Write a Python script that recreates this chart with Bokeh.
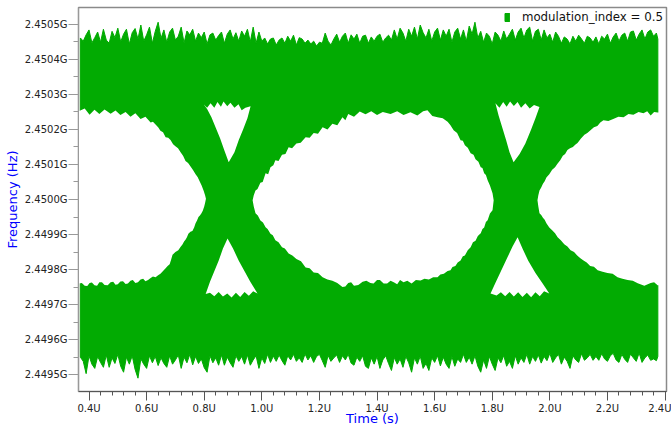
from bokeh.plotting import figure
from bokeh.models import Range1d, FixedTicker, CustomJSTickFormatter, Legend, LegendItem
from bokeh.embed import file_html
from bokeh.resources import INLINE

# ---------------- data (time in microseconds, frequency deviation in kHz from 2.45 GHz) ----------------
CENTER_HZ = 2.45e9
series_label = "modulation_index = 0.5"
x_title = "Time (s)"
y_title = "Frequency (Hz)"

x_tick_us = [0.4, 0.6, 0.8, 1.0, 1.2, 1.4, 1.6, 1.8, 2.0, 2.2, 2.4]
y_tick_ghz = [2.4495, 2.4496, 2.4497, 2.4498, 2.4499, 2.4500, 2.4501, 2.4502, 2.4503, 2.4504, 2.4505]

# outer envelope of the overlaid traces (noise peaks of the upper and lower rails)
edge_t = [0.37, 0.38, 0.39, 0.40, 0.41, 0.42, 0.43, 0.44, 0.45, 0.46,
          0.47, 0.48, 0.49, 0.50, 0.51, 0.52, 0.53, 0.54, 0.55, 0.56,
          0.57, 0.58, 0.59, 0.60, 0.61, 0.62, 0.63, 0.64, 0.65, 0.66,
          0.67, 0.68, 0.69, 0.70, 0.71, 0.72, 0.73, 0.74, 0.75, 0.76,
          0.77, 0.78, 0.79, 0.80, 0.81, 0.82, 0.83, 0.84, 0.85, 0.86,
          0.87, 0.88, 0.89, 0.90, 0.91, 0.92, 0.93, 0.94, 0.95, 0.96,
          0.97, 0.98, 0.99, 1.00, 1.01, 1.02, 1.03, 1.04, 1.05, 1.06,
          1.07, 1.08, 1.09, 1.10, 1.11, 1.12, 1.13, 1.14, 1.15, 1.16,
          1.17, 1.18, 1.19, 1.20, 1.21, 1.22, 1.23, 1.24, 1.25, 1.26,
          1.27, 1.28, 1.29, 1.30, 1.31, 1.32, 1.33, 1.34, 1.35, 1.36,
          1.37, 1.38, 1.39, 1.40, 1.41, 1.42, 1.43, 1.44, 1.45, 1.46,
          1.47, 1.48, 1.49, 1.50, 1.51, 1.52, 1.53, 1.54, 1.55, 1.56,
          1.57, 1.58, 1.59, 1.60, 1.61, 1.62, 1.63, 1.64, 1.65, 1.66,
          1.67, 1.68, 1.69, 1.70, 1.71, 1.72, 1.73, 1.74, 1.75, 1.76,
          1.77, 1.78, 1.79, 1.80, 1.81, 1.82, 1.83, 1.84, 1.85, 1.86,
          1.87, 1.88, 1.89, 1.90, 1.91, 1.92, 1.93, 1.94, 1.95, 1.96,
          1.97, 1.98, 1.99, 2.00, 2.01, 2.02, 2.03, 2.04, 2.05, 2.06,
          2.07, 2.08, 2.09, 2.10, 2.11, 2.12, 2.13, 2.14, 2.15, 2.16,
          2.17, 2.18, 2.19, 2.20, 2.21, 2.22, 2.23, 2.24, 2.25, 2.26,
          2.27, 2.28, 2.29, 2.30, 2.31, 2.32, 2.33, 2.34, 2.35, 2.36,
          2.37, 2.375]
top_dev = [461, 452, 470, 484, 447, 462, 478, 449, 486, 455,
           446, 480, 462, 489, 450, 472, 486, 444, 476, 488,
           458, 498, 452, 470, 492, 446, 480, 506, 460, 484,
           449, 478, 489, 455, 466, 492, 447, 481, 470, 486,
           452, 475, 462, 478, 444, 470, 475, 455, 468, 478,
           446, 472, 484, 458, 476, 452, 481, 466, 486, 450,
           492, 446, 478, 452, 461, 444, 458, 461, 441, 455,
           461, 446, 466, 452, 469, 441, 462, 458, 446, 455,
           444, 452, 438, 449, 446, 475, 452, 441, 458, 472,
           449, 466, 475, 446, 470, 458, 472, 446, 466, 469,
           446, 464, 452, 466, 472, 449, 461, 469, 455, 484,
           458, 489, 475, 452, 486, 466, 492, 458, 498, 476,
           461, 486, 452, 478, 489, 455, 484, 466, 486, 449,
           478, 489, 458, 484, 452, 495, 472, 506, 461, 480,
           449, 475, 466, 444, 478, 469, 452, 481, 458, 472,
           486, 455, 478, 489, 461, 484, 492, 452, 480, 486,
           455, 484, 461, 472, 449, 478, 466, 446, 464, 458,
           444, 466, 452, 469, 458, 446, 466, 461, 449, 464,
           444, 466, 458, 472, 446, 464, 475, 452, 469, 475,
           452, 478, 481, 455, 472, 484, 458, 478, 484, 466,
           475, 458]
bottom_dev = [-450, -462, -497, -446, -470, -482, -448, -465, -479, -444,
              -479, -452, -468, -442, -476, -493, -450, -470, -446, -485,
              -510, -455, -470, -482, -446, -466, -448, -474, -452, -468,
              -479, -446, -470, -458, -444, -482, -450, -466, -442, -472,
              -448, -468, -455, -480, -493, -446, -466, -452, -473, -444,
              -473, -450, -466, -479, -446, -462, -448, -470, -444, -473,
              -458, -446, -482, -452, -468, -442, -465, -447, -462, -444,
              -460, -473, -446, -458, -442, -462, -452, -465, -441, -458,
              -446, -465, -448, -442, -460, -479, -445, -462, -452, -444,
              -465, -446, -458, -442, -467, -473, -450, -462, -446, -476,
              -482, -452, -470, -448, -482, -458, -446, -468, -488, -451,
              -470, -455, -479, -448, -466, -493, -452, -470, -447, -482,
              -468, -488, -452, -465, -446, -475, -450, -470, -482, -448,
              -476, -455, -465, -442, -465, -450, -470, -446, -476, -493,
              -458, -482, -448, -470, -488, -452, -466, -445, -476, -462,
              -482, -446, -470, -452, -465, -442, -470, -448, -462, -444,
              -467, -448, -460, -439, -465, -452, -442, -470, -450, -462,
              -482, -446, -458, -465, -440, -459, -452, -442, -459, -448,
              -459, -440, -455, -462, -446, -439, -458, -465, -442, -456,
              -465, -441, -452, -462, -438, -465, -452, -444, -459, -455,
              -460, -448]

# open (trace-free) regions of the eye, as (time us, deviation kHz) outline points
left_eye = [(0.364, 252), (0.385, 260), (0.402, 242), (0.419, 256), (0.436, 244), (0.454, 257),
            (0.475, 245), (0.492, 254), (0.509, 241), (0.527, 250), (0.544, 236), (0.561, 246),
            (0.579, 230), (0.596, 236), (0.614, 220), (0.622, 222), (0.631, 214), (0.640, 206),
            (0.648, 196), (0.657, 192), (0.666, 178), (0.675, 176), (0.683, 170), (0.692, 158),
            (0.700, 152), (0.709, 146), (0.718, 135), (0.727, 124), (0.735, 110), (0.744, 104),
            (0.752, 95), (0.761, 84), (0.770, 72), (0.777, 64), (0.784, 52), (0.791, 40),
            (0.798, 25), (0.803, 12), (0.806, 2),
            (0.803, -10), (0.800, -20), (0.795, -32), (0.790, -40), (0.785, -46), (0.780, -50),
            (0.775, -60), (0.770, -68), (0.765, -80), (0.759, -90), (0.752, -92), (0.745, -98),
            (0.740, -108), (0.735, -115), (0.730, -120), (0.725, -128), (0.717, -136), (0.710, -145),
            (0.700, -150), (0.690, -158), (0.685, -172), (0.680, -185), (0.673, -190), (0.666, -196),
            (0.657, -204), (0.648, -212), (0.640, -216), (0.631, -222), (0.622, -220), (0.614, -224),
            (0.605, -230), (0.596, -233), (0.588, -226), (0.579, -228), (0.570, -236), (0.561, -238),
            (0.552, -230), (0.544, -232), (0.535, -240), (0.527, -241), (0.518, -233), (0.509, -234),
            (0.500, -242), (0.492, -243), (0.484, -235), (0.475, -236), (0.465, -245), (0.454, -244),
            (0.445, -236), (0.436, -236), (0.428, -246), (0.419, -245), (0.410, -237), (0.402, -238),
            (0.394, -247), (0.385, -246), (0.375, -238), (0.364, -240)]

center_eye = [(0.968, -2), (0.972, 12), (0.978, 26), (0.985, 30), (0.995, 48), (1.003, 50),
              (1.013, 75), (1.022, 72), (1.030, 92), (1.040, 98), (1.047, 112), (1.058, 110),
              (1.070, 128), (1.082, 130), (1.093, 149), (1.105, 146), (1.120, 160), (1.135, 162),
              (1.152, 178), (1.166, 176), (1.180, 190), (1.195, 188), (1.211, 206), (1.228, 200),
              (1.245, 216), (1.262, 212), (1.280, 235), (1.290, 226), (1.300, 244), (1.320, 236),
              (1.340, 251), (1.360, 243), (1.380, 252), (1.400, 241), (1.420, 250), (1.447, 244),
              (1.470, 252), (1.492, 241), (1.516, 249), (1.540, 240), (1.560, 252), (1.575, 255),
              (1.592, 238), (1.610, 235), (1.628, 232), (1.645, 222), (1.655, 212), (1.666, 198),
              (1.678, 190), (1.690, 169), (1.698, 168), (1.705, 155), (1.715, 148), (1.725, 132),
              (1.735, 128), (1.742, 115), (1.752, 108), (1.760, 92), (1.766, 90), (1.772, 75),
              (1.778, 70), (1.784, 55), (1.792, 40), (1.801, 18), (1.805, -2),
              (1.801, -31), (1.792, -40), (1.784, -59), (1.778, -64), (1.772, -80), (1.766, -84),
              (1.760, -96), (1.750, -104), (1.742, -118), (1.733, -122), (1.725, -136), (1.715, -145),
              (1.705, -160), (1.698, -162), (1.690, -174), (1.680, -180), (1.672, -190), (1.662, -193),
              (1.655, -202), (1.645, -204), (1.632, -212), (1.620, -214), (1.610, -222), (1.595, -222),
              (1.580, -228), (1.565, -226), (1.551, -231), (1.535, -230), (1.520, -240), (1.505, -232),
              (1.492, -236), (1.480, -230), (1.470, -242), (1.458, -236), (1.447, -232), (1.435, -240),
              (1.423, -240), (1.410, -230), (1.400, -230), (1.388, -240), (1.377, -238), (1.363, -232),
              (1.350, -235), (1.335, -244), (1.320, -246), (1.310, -236), (1.300, -238), (1.290, -248),
              (1.280, -250), (1.262, -238), (1.245, -232), (1.228, -228), (1.211, -222), (1.195, -210),
              (1.180, -208), (1.166, -196), (1.152, -194), (1.136, -176), (1.120, -170), (1.106, -160),
              (1.093, -154), (1.080, -140), (1.070, -136), (1.058, -122), (1.047, -116), (1.038, -102),
              (1.030, -98), (1.020, -84), (1.013, -79), (1.004, -66), (0.995, -60), (0.986, -46),
              (0.978, -39), (0.972, -20)]

right_eye = [(1.957, -2), (1.960, 12), (1.964, 26), (1.970, 34), (1.976, 45), (1.982, 52),
             (1.988, 63), (1.998, 72), (2.008, 85), (2.018, 92), (2.027, 103), (2.036, 112),
             (2.045, 125), (2.053, 130), (2.061, 141), (2.070, 146), (2.080, 150), (2.088, 156),
             (2.096, 161), (2.108, 174), (2.120, 185), (2.130, 190), (2.141, 198), (2.153, 206),
             (2.165, 210), (2.175, 220), (2.186, 226), (2.203, 224), (2.220, 230), (2.238, 236),
             (2.256, 235), (2.273, 244), (2.290, 242), (2.308, 250), (2.325, 246), (2.338, 252),
             (2.350, 240), (2.362, 250), (2.374, 248), (2.390, 248),
             (2.390, -245), (2.374, -245), (2.362, -236), (2.350, -238), (2.328, -246), (2.305, -239),
             (2.288, -232), (2.270, -230), (2.252, -226), (2.235, -222), (2.218, -212), (2.200, -210),
             (2.183, -206), (2.166, -202), (2.153, -192), (2.140, -190), (2.128, -180), (2.117, -174),
             (2.106, -168), (2.095, -160), (2.084, -150), (2.072, -145), (2.061, -134), (2.050, -128),
             (2.038, -116), (2.027, -108), (2.018, -96), (2.008, -88), (1.998, -80), (1.988, -68),
             (1.982, -58), (1.976, -52), (1.970, -44), (1.964, -39), (1.960, -20)]

upper_gap1 = [(0.798, 272), (0.810, 262), (0.822, 275), (0.835, 262), (0.846, 278), (0.858, 265),
              (0.867, 280), (0.880, 266), (0.891, 276), (0.905, 262), (0.919, 272), (0.930, 255),
              (0.943, 262), (0.961, 266), (0.950, 232), (0.935, 200), (0.920, 170), (0.905, 135),
              (0.885, 106), (0.870, 140), (0.855, 175), (0.840, 205), (0.825, 235), (0.810, 258)]

lower_gap1 = [(0.881, -111), (0.900, -140), (0.920, -175), (0.940, -205), (0.960, -235), (0.985, -268),
              (0.970, -262), (0.955, -275), (0.940, -264), (0.925, -278), (0.910, -266), (0.895, -280),
              (0.880, -268), (0.865, -277), (0.850, -264), (0.835, -276), (0.820, -266), (0.805, -270),
              (0.820, -235), (0.835, -205), (0.850, -175), (0.865, -140)]

upper_gap2 = [(1.811, 275), (1.825, 262), (1.838, 278), (1.850, 265), (1.862, 280), (1.875, 267),
              (1.888, 278), (1.900, 262), (1.915, 275), (1.930, 260), (1.945, 270), (1.964, 264),
              (1.950, 232), (1.935, 200), (1.915, 160), (1.895, 130), (1.874, 106), (1.860, 135),
              (1.848, 170), (1.835, 205), (1.822, 240)]

lower_gap2 = [(1.888, -108), (1.905, -140), (1.925, -175), (1.950, -210), (1.975, -240), (1.998, -268),
              (1.980, -262), (1.965, -276), (1.950, -265), (1.935, -279), (1.920, -266), (1.905, -278),
              (1.890, -265), (1.875, -277), (1.860, -264), (1.845, -276), (1.830, -265), (1.815, -274),
              (1.794, -268), (1.810, -240), (1.830, -205), (1.850, -170), (1.870, -135)]

# ---------------- drawing ----------------
GREEN = "#02ab02"
AXIS_BLUE = "#0000ff"
X_START, X_END = 0.3635, 2.405
Y_START, Y_END = CENTER_HZ - 548e3, CENTER_HZ + 548e3


def to_hz(devs):
    return [CENTER_HZ + d * 1e3 for d in devs]


p = figure(width=671, height=429, output_backend="svg", toolbar_location=None,
           x_range=Range1d(X_START, X_END), y_range=Range1d(Y_START, Y_END),
           min_border_left=78, min_border_right=5, min_border_top=7, min_border_bottom=38)
p.background_fill_color = "white"
p.border_fill_color = "white"
p.xgrid.visible = False
p.ygrid.visible = False
p.outline_line_color = "#8a8a8a"
p.outline_line_width = 1.5

outer_t = edge_t + edge_t[::-1]
outer_y = to_hz(top_dev + bottom_dev[::-1])
band = p.patch(x=outer_t, y=outer_y, fill_color=GREEN, line_color=GREEN, line_width=1)

for region in [left_eye, center_eye, right_eye, upper_gap1, lower_gap1, upper_gap2, lower_gap2]:
    ts = [pt[0] for pt in region]
    ds = [pt[1] for pt in region]
    p.patch(x=ts, y=to_hz(ds), fill_color="white", line_color=None)

# axes
x_minor = [round(0.36 + 0.04 * k, 2) for k in range(0, 52)]
p.xaxis.ticker = FixedTicker(ticks=x_tick_us, minor_ticks=x_minor)
p.xaxis.formatter = CustomJSTickFormatter(code="return tick.toFixed(1) + 'U';")
y_major = [round(v * 1e9) for v in y_tick_ghz]
y_minor = [v + 50e3 for v in y_major] + [y_major[0] - 50e3]
p.yaxis.ticker = FixedTicker(ticks=y_major, minor_ticks=y_minor)
p.yaxis.formatter = CustomJSTickFormatter(code="return (tick / 1e9).toFixed(4) + 'G';")

p.xaxis.axis_label = x_title
p.yaxis.axis_label = y_title
for ax in (p.xaxis[0], p.yaxis[0]):
    ax.axis_label_text_font = "DejaVu Sans"
    ax.axis_label_text_font_size = "13px"
    ax.axis_label_text_font_style = "normal"
    ax.axis_label_text_color = AXIS_BLUE
    ax.major_label_text_font = "DejaVu Sans"
    ax.major_label_text_font_size = "10px"
    ax.major_label_text_color = "#222222"
    ax.major_tick_in = 0
    ax.minor_tick_in = 0

p.xaxis.major_tick_out = 9
p.xaxis.minor_tick_out = 4
p.xaxis.major_label_standoff = 2
p.xaxis.axis_label_standoff = -6
p.xaxis.axis_line_color = "#555555"
p.xaxis.major_tick_line_color = "#555555"
p.xaxis.minor_tick_line_color = "#555555"

p.yaxis.major_tick_out = 10
p.yaxis.minor_tick_out = 5
p.yaxis.major_label_standoff = 1
p.yaxis.axis_label_standoff = 2
p.yaxis.axis_line_color = "#999999"
p.yaxis.major_tick_line_color = "#999999"
p.yaxis.minor_tick_line_color = "#999999"

legend = Legend(items=[LegendItem(label=series_label, renderers=[band])],
                location="top_right", glyph_width=6, glyph_height=10,
                label_text_font="DejaVu Sans", label_text_font_size="11.8px", label_text_color="#111111",
                label_standoff=12, padding=1, margin=2, spacing=0,
                border_line_alpha=0, background_fill_alpha=0)
p.add_layout(legend)

open("out.html", "w").write(file_html(p, INLINE))
